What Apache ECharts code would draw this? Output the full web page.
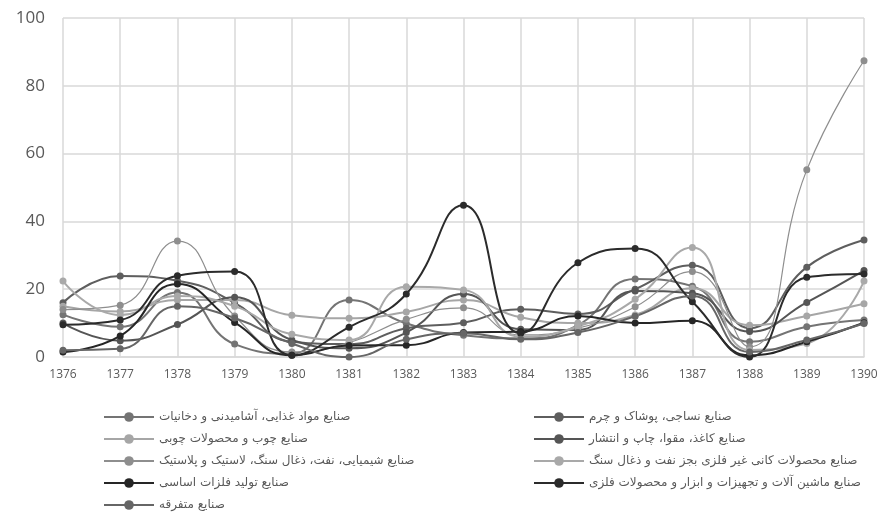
<!DOCTYPE html>
<html>
<head>
<meta charset="utf-8">
<script src="https://cdn.jsdelivr.net/npm/echarts@6/dist/echarts.min.js"></script>
<style>
	html, body { margin: 0; padding: 0; background: #fff; }
	#chart { width: 881px; height: 513px; }
</style>
</head>
<body>
<div id="chart"></div>
<script>
!function(){

	'use strict';

	var years = ['1376','1377','1378','1379','1380','1381','1382','1383','1384','1385','1386','1387','1388','1389','1390'];
	var yTicks = [0, 20, 40, 60, 80, 100];

	var names = [
		'صنایع مواد غذایی، آشامیدنی و دخانیات',
		'صنایع نساجی، پوشاک و چرم',
		'صنایع چوب و محصولات چوبی',
		'صنایع کاغذ، مقوا، چاپ و انتشار',
		'صنایع شیمیایی، نفت، ذغال سنگ، لاستیک و پلاستیک',
		'صنایع محصولات کانی غیر فلزی بجز نفت و ذغال سنگ',
		'صنایع تولید فلزات اساسی',
		'صنایع ماشین آلات و تجهیزات و ابزار و محصولات فلزی',
		'صنایع متفرقه'
	];

	var food      = [12.5, 8.9, 19, 3.8, 1, 16.8, 9.9, 6.4, 5.5, 9.4, 23, 20.9, 4.5, 8.9, 10.9];
	var textile   = [16, 23.9, 22.5, 16, 4.5, 3.8, 8.5, 10.1, 14.1, 12.7, 20, 27.1, 8.5, 26.5, 34.5];
	var wood      = [15, 13.4, 16.8, 16.8, 12.3, 11.4, 13.3, 16.8, 11.7, 10, 12.4, 20.3, 9.4, 12.1, 15.7];
	var paper     = [10, 4.8, 9.6, 17.6, 5, 2.6, 7.2, 18.6, 8.2, 8, 19.5, 18.8, 7.5, 16.1, 25.5];
	var chemical  = [14, 15.3, 34.2, 12.1, 1.5, 4.2, 11.1, 14.5, 6.5, 8.5, 14.8, 25.2, 3, 55.2, 87.4];
	var mineral   = [22.4, 12.4, 18, 15, 6.7, 5, 20.7, 19.8, 6, 9, 17, 32.3, 2.1, 4, 22.4];
	var metals    = [1.5, 6.2, 21.5, 10.2, 0.5, 3.4, 3.5, 7.2, 7.5, 12.1, 10, 10.7, 0.5, 4.5, 10.1];
	var machinery = [9.5, 10.9, 24, 25.2, 0.5, 8.8, 18.6, 44.8, 7, 27.8, 32, 16.3, 0, 23.5, 24.5];
	var misc      = [2, 2.4, 15, 11.5, 4, 0, 5.2, 7, 5.2, 7.2, 12, 18, 1.5, 5, 9.9];

	var values = [food, textile, wood, paper, chemical, mineral, metals, machinery, misc];
	var colors = ['#747474','#5e5e5e','#a6a6a6','#555555','#8e8e8e','#a9a9a9','#262626','#2b2b2b','#666666'];
	var widths = [2, 2, 2, 2, 1.2, 2, 2, 2, 2];

	var series = names.map(function(n, i){
		return {
			name: n,
			type: 'line',
			data: values[i],
			smooth: 0.5,
			smoothConstraint: false,
			symbol: 'circle',
			symbolSize: 7,
			lineStyle: { color: colors[i], width: widths[i] },
			itemStyle: { color: colors[i] },
			emphasis: { disabled: true }
		};
	});

	var legendBase = {
		orient: 'vertical',
		top: 411,
		padding: 0,
		itemWidth: 50,
		itemHeight: 12,
		itemGap: 10,
		textStyle: { color: '#595959', fontSize: 12, fontFamily: 'DejaVu Sans' }
	};

	var myChart = echarts.init(document.getElementById('chart'));
	myChart.setOption({
		animation: false,
		backgroundColor: '#fff',
		grid: { left: 63, right: 17, top: 18, bottom: 156 },
		xAxis: {
			type: 'category',
			data: years,
			boundaryGap: false,
			axisLine: { lineStyle: { color: '#d9d9d9', width: 1.5 } },
			axisTick: { show: false },
			axisLabel: { color: '#595959', fontSize: 12, margin: 12, fontFamily: 'Open Sans' },
			splitLine: { show: true, lineStyle: { color: '#d9d9d9', width: 1.5 } }
		},
		yAxis: {
			type: 'value',
			min: yTicks[0],
			max: yTicks[yTicks.length - 1],
			interval: 20,
			axisLine: { show: false },
			axisTick: { show: false },
			axisLabel: { color: '#595959', fontSize: 17, margin: 18, fontFamily: 'Open Sans' },
			splitLine: { lineStyle: { color: '#d9d9d9', width: 1.5 } }
		},
		legend: [
			Object.assign({ left: 103, data: [names[0], names[2], names[4], names[6], names[8]] }, legendBase),
			Object.assign({ left: 533, data: [names[1], names[3], names[5], names[7]] }, legendBase)
		],
		series: series
	});
}()
</script>
</body>
</html>
